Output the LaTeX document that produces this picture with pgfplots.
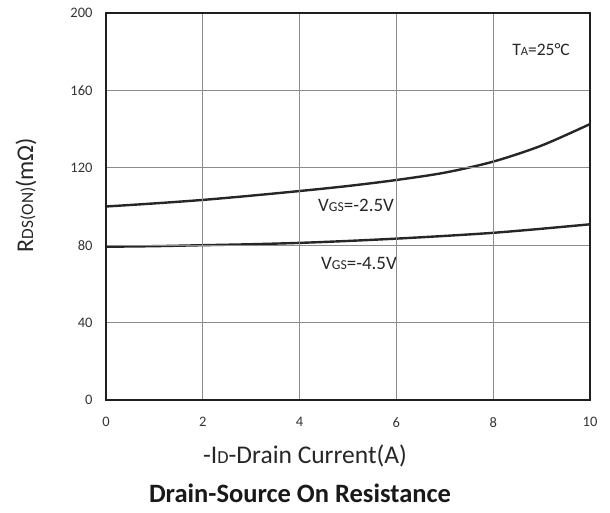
\documentclass[border=0pt]{standalone}
\usepackage{fontspec}
\setmainfont{Carlito}
\usepackage{graphicx}
\usepackage{pgfplots}
\pgfplotsset{compat=1.18}
\newcommand{\sm}[1]{\scalebox{0.72}{#1}}
\begin{document}
\begin{tikzpicture}
\useasboundingbox (0,0) rectangle (610pt,512pt);
\begin{axis}[
  at={(106pt,112pt)}, anchor=south west,
  scale only axis, width=484pt, height=387pt,
  xmin=0, xmax=10, ymin=0, ymax=200,
  xtick={0,2,...,10}, ytick={0,40,...,200},
  grid=major,
  grid style={line width=1pt, color=black!45},
  axis line style={line width=2.6pt, color=black!88},
  major tick length=0pt,
  tick label style={font=\fontsize{14.5}{16}\selectfont, text=black!80},
  /pgf/number format/assume math mode=true,
  xticklabel style={yshift=-14pt},
  yticklabel style={xshift=-10pt},
  clip=false,
  axis on top,
]
\addplot[smooth, line width=2.4pt, color=black!85] coordinates {
(0,100) (1,101.6) (2,103.4) (3,105.6) (4,108) (5,110.6) (6,113.7) (7,117.5) (8,123.2) (9,131.5) (10,142.6)};
\addplot[smooth, line width=2.4pt, color=black!85] coordinates {
(0,79.2) (1,79.5) (2,80) (3,80.5) (4,81.2) (5,82.2) (6,83.4) (7,84.8) (8,86.4) (9,88.5) (10,90.8)};
\node[anchor=west, inner sep=0pt, font=\fontsize{19}{21}\selectfont, text=black!85] at (axis cs:4.38,100.8) {V\sm{GS}=-2.5V};
\node[anchor=west, inner sep=0pt, font=\fontsize{19}{21}\selectfont, text=black!85] at (axis cs:4.44,70.3) {V\sm{GS}=-4.5V};
\node[anchor=west, inner sep=0pt, font=\fontsize{17.5}{19}\selectfont, text=black!85] at (axis cs:8.39,180.9) {T\sm{A}=25°C};
\end{axis}
\node[rotate=90, font=\fontsize{24}{26}\selectfont, text=black!85] at (26pt,317pt) {R\sm{DS(ON)}(mΩ)};
\node[font=\fontsize{25.5}{27}\selectfont, text=black!85] at (305pt,56pt) {-I\sm{D}-Drain Current(A)};
\node[font=\bfseries\fontsize{26.5}{28}\selectfont, text=black!90] at (300pt,19pt) {Drain-Source On Resistance};
\end{tikzpicture}
\end{document}
